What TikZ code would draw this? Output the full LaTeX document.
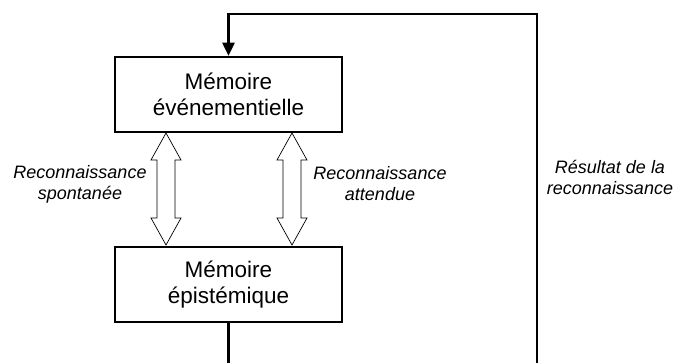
\documentclass[tikz,border=0pt]{standalone}
\usepackage{fontspec}
\setmainfont{Liberation Sans}
\usetikzlibrary{arrows.meta}
\begin{document}
\begin{tikzpicture}[x=1pt,y=-1pt,
  membox/.style={draw=black, line width=2.5pt, minimum width=227pt, minimum height=75pt,
    inner sep=0pt, align=center, font=\fontsize{22.5}{26}\selectfont},
  lbl/.style={align=center, font=\itshape\fontsize{18}{21}\selectfont},
  conn/.style={draw=black, line width=2.5pt},
  dbl/.style={draw=black, line width=0.7pt, fill=white}]
\useasboundingbox (0,0) rectangle (683,363);
\clip (0,0) rectangle (683,363);
\node[membox] (top) at (228.5,94.5) {Mémoire\\événementielle};
\node[membox] (bot) at (228.5,284.5) {Mémoire\\épistémique};
\coordinate (low) at (228.5,400);
\coordinate (corner) at (537,14);
\draw[conn, -{Triangle[width=12pt,length=13pt]}] (bot.south) -- (low) -| (corner) -| (top.north);
% double arrows
\foreach \cx/\nm in {166/la, 292/ra}{
  \draw[dbl] (\cx,133) -- (\cx+15,160) -- (\cx+9,160) -- (\cx+9,218) -- (\cx+15,218) -- (\cx,245)
    -- (\cx-15,218) -- (\cx-9,218) -- (\cx-9,160) -- (\cx-15,160) -- cycle;
}
\node[lbl] (l1) at (80,184) {Reconnaissance\\spontanée};
\node[lbl] (l2) at (380,184) {Reconnaissance\\attendue};
\node[lbl] (l3) at (610,177) {Résultat de la\\reconnaissance};
\end{tikzpicture}
\end{document}
